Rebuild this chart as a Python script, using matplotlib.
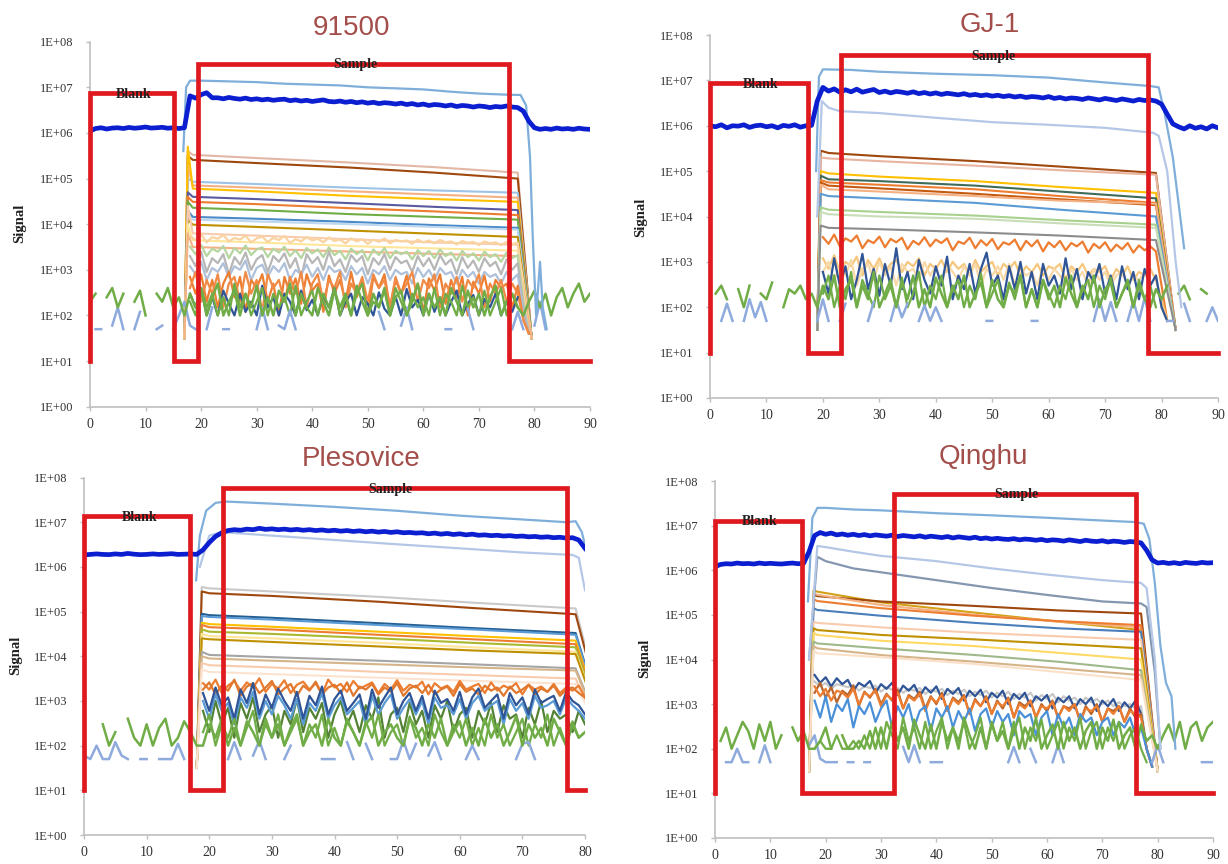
import numpy as np
import matplotlib
matplotlib.use("Agg")
import matplotlib.pyplot as plt
from matplotlib.ticker import FixedLocator, FixedFormatter, NullLocator

nan = float("nan")

# ---------------------------------------------------------------- DATA
Y_TICK_VALUES = [1, 10, 100, 1e3, 1e4, 1e5, 1e6, 1e7, 1e8]
Y_TICK_LABELS = ["1E+00", "1E+01", "1E+02", "1E+03", "1E+04",
                 "1E+05", "1E+06", "1E+07", "1E+08"]
X_TICKS_90 = [0, 10, 20, 30, 40, 50, 60, 70, 80, 90]
X_TICKS_80 = [0, 10, 20, 30, 40, 50, 60, 70, 80]
TITLES = ["91500", "GJ-1", "Plesovice", "Qinghu"]

# ---- 91500 -------------------------------------------------------------
A_gate_t = [0, 0, 15.1, 15.1, 19.4, 19.4, 75.4, 75.4, 90]
A_gate_v = [10, 7.5e6, 7.5e6, 10, 10, 3.3e7, 3.3e7, 10, 10]
# thick blue (x1e6): t=0.., t=17.., t=78..
A_blue_pre = [1.1, 1.25, 1.3, 1.22, 1.28, 1.3, 1.25, 1.32, 1.27, 1.3, 1.35, 1.28, 1.3, 1.33, 1.27, 1.3, 1.25]
A_blue_mid = [1.3, 6.5, 5.8, 6.9, 7.6, 5.9,
              5.9, 5.6, 6.0, 5.7, 5.5, 5.8, 5.4, 5.6, 5.3, 5.5, 5.2, 5.4, 5.5, 5.1, 5.3, 5.0, 5.2, 4.9,
              5.1, 5.3, 4.9, 4.8, 5.0, 4.7, 4.9, 4.6, 4.8, 4.5, 4.7, 4.4, 4.6, 4.5, 4.3, 4.5, 4.2, 4.4,
              4.1, 4.3, 4.0, 4.2, 4.1, 3.9, 4.1, 3.8, 4.0, 3.9, 3.7, 3.9, 3.8, 3.6, 3.8, 3.7, 3.9, 3.7, 3.6]
A_blue_post = [3.0, 1.8, 1.3, 1.2, 1.25, 1.2, 1.28, 1.22, 1.25, 1.2, 1.27, 1.22, 1.2]
A_top_t = [16.8, 17.3, 18, 20, 25, 30, 35, 40, 45, 50, 55, 60, 65, 70, 75, 77.5, 78.5, 79.2, 79.7, 80.3, 81, 81.5, 82.2]
A_top_v = [4e5, 1.0e7, 1.4e7, 1.4e7, 1.35e7, 1.3e7, 1.2e7, 1.15e7, 1.1e7, 1.0e7, 9.5e6, 9e6, 8e6, 7.3e6,
           6.9e6, 6.8e6, 4e6, 3e5, 5e3, 1e2, 1.5e3, 1.5e2, 5e1]
A_kt = [17.0, 17.6, 18.5, 30, 47, 62, 77, 79.5]
A_l01 = [1.5, 5.60, 5.52, 5.45, 5.35, 5.25, 5.13, 1.5]
A_l02 = [1.5, 5.50, 5.41, 5.34, 5.24, 5.13, 5.00, 1.5]
A_l03 = [1.5, 5.00, 4.93, 4.88, 4.80, 4.74, 4.69, 1.5]
A_l04 = [1.5, 5.30, 4.85, 4.80, 4.72, 4.65, 4.58, 1.5]
A_l05 = [1.5, 5.70, 4.78, 4.72, 4.62, 4.55, 4.49, 1.5]
A_l06 = [1.5, 4.70, 4.60, 4.55, 4.46, 4.38, 4.31, 1.5]
A_l07 = [1.5, 4.60, 4.49, 4.44, 4.35, 4.28, 4.20, 1.5]
A_l08 = [1.5, 4.50, 4.36, 4.31, 4.22, 4.16, 4.10, 1.5]
A_l09 = [1.5, 4.30, 4.16, 4.12, 4.05, 3.98, 3.92, 1.5]
A_l10 = [1.5, 4.20, 4.10, 4.06, 4.00, 3.94, 3.88, 1.5]
A_l11 = [1.5, 4.10, 3.99, 3.94, 3.86, 3.79, 3.72, 1.5]
A_l12 = [1.5, 4.40, 3.80, 3.75, 3.67, 3.60, 3.55, 1.5]
A_l13 = [1.5, 4.00, 3.65, 3.60, 3.52, 3.47, 3.42, 1.5]
A_l14 = [1.5, 3.80, 3.50, 3.46, 3.40, 3.35, 3.30, 1.5]
A_line_colors = ["#E2B7A5", "#9E480E", "#9DC3E6", "#F4B183", "#FFC000", "#5A5AA0", "#ED7D31",
                 "#70AD47", "#4A8AC8", "#BDD7EE", "#BF9000", "#F8CBAD", "#FFE699", "#F4B183"]
# noisy traces (x100 counts), 1 s steps from t=18
A_peach = [55, 45, 60, 40, 52, 48, 58, 42, 50, 46, 56, 40, 49, 53, 41, 50, 45, 55, 39, 47, 42, 52, 44, 48, 40,
           51, 43, 46, 38, 49, 42, 47, 37, 46, 41, 49, 38, 45, 42, 44, 37, 46, 40, 44, 38, 45, 40, 42, 36, 43,
           39, 41, 35, 42, 38, 40, 35, 41, 37, 39, 3, 0.4]
A_lgreen = [32, 22, 35, 20, 29, 25, 33, 18, 30, 23, 34, 21, 28, 31, 19, 29, 24, 32, 20, 27, 18, 30, 23, 28, 19,
            31, 21, 26, 17, 29, 22, 27, 16, 28, 21, 30, 18, 26, 22, 25, 17, 27, 20, 26, 18, 28, 20, 24, 16, 26,
            19, 23, 16, 25, 19, 22, 15, 24, 18, 21, 2, 0.4]
A_gray = [20, 12, 25, 9, 18, 14, 22, 8, 19, 13, 24, 10, 17, 21, 9, 20, 15, 23, 11, 18, 7, 22, 14, 19, 10, 25,
          12, 17, 9, 21, 15, 20, 8, 18, 13, 22, 10, 19, 14, 16, 9, 20, 12, 18, 10, 21, 13, 17, 8, 19, 11, 16,
          9, 18, 12, 15, 8, 17, 10, 14, 1.5, 0.4]
A_lgray = [12, 8, 15, 6, 11, 9, 14, 7, 12, 10, 16, 6, 11, 13, 7, 12, 9, 14, 6, 10, 8, 13, 7, 11, 6, 12, 9, 10,
           6, 12, 8, 11, 5, 10, 8, 12, 6, 10, 8, 9, 5, 11, 7, 10, 6, 11, 8, 9, 5, 10, 7, 9, 5, 9, 7, 8, 5, 9,
           6, 8, 1, 0.4]
A_orange = [7, 3, 8, 2, 6, 1.5, 5, 9, 2.5, 7, 1.2, 6, 4, 8, 2, 5, 1, 7, 3, 6.5, 1.8, 8, 3.5, 5, 1.2, 7.5, 3,
            6, 2, 9, 2.5, 5.5, 1, 7, 4, 8, 1.5, 6, 3, 7.5, 2, 5, 1.2, 6.5, 3.5, 8, 1.8, 6, 2.5, 7, 1, 5.5, 3,
            7.5, 2, 6, 4, 5, 1.5, 4.5, 0.8, 0.4]
A_orange2 = [4, 9, 2, 6, 3, 8, 1.5, 5, 7, 2, 9, 3, 6, 1.2, 8, 4, 6, 2, 7, 3, 9, 1.5, 5, 8, 2, 6, 4, 9, 1.5, 5,
             3, 7, 2, 8, 4, 6, 1.5, 7, 3, 5, 9, 2, 6, 4, 8, 1.5, 5, 3, 7, 2, 6, 4, 8, 1.5, 5, 3, 6, 2, 5, 3,
             0.8, 0.4]
A_dblue = [3, 1.5, 4, 1, 2.5, 1, 3.5, 1.8, 1, 3, 1.2, 2, 1, 4.5, 1.5, 2.5, 1, 3, 2, 1, 3.5, 1.3, 2.2, 1, 2.8,
           1.5, 4, 1, 2, 3, 1, 2.5, 1.8, 1, 3.2, 1.4, 1, 2.6, 1, 3.8, 1.5, 2.2, 1, 3, 1.2, 2.5, 1, 2, 3.5, 1,
           1.8, 2.8, 1, 2.3, 1.5, 3, 1, 2, 1.2, 2.5]
A_green2 = [2, 1, 4, 1.5, 3, 1, 2.5, 1, 5, 1.5, 3, 1, 2, 4, 1, 3, 1.5, 2.5, 1, 4.5, 1, 2, 3.5, 1, 3, 1.5, 4, 1,
            2.5, 1, 3, 5, 1, 2, 1.5, 3.5, 1, 4, 2, 1, 3, 1.5, 2.5, 1, 4, 1, 3, 2, 1, 4.5, 1.5, 2.5, 1, 3.5, 1,
            2, 4, 1, 3, 1.5]
A_green = [2, 3, nan, 2.5, 4, 1.5, 3, nan, 2, 3.5, 1, nan, 3, 2, 4, 1.5, 2.5,
           1, 3, 1.5, 4, 1, 2.5, 5, 1, 2, 3.5, 1, 3, 1.5, 4.5, 1, 2.5, 1, 3.5, 2, 5, 1, 3, 1.5, 1, 4, 2, 1,
           3.5, 1.5, 3, 1, 4.5, 2, 1, 3, 1.5, 4, 1, 2.5, 3.5, 1, 2, 5, 1, 3, 1.5, 2.5, 1, 4, 2, 1, 3.5, 1.5,
           3, 1, 2.5, 4.5, 1, 2, 3, 1.5,
           1, 2, 3.5, 1.5, 3, 1, 2.5, 4, 1.5, 3, 5, 2, 3]
A_peri = [nan, 0.5, 0.5, nan, 0.6, 1.5, 0.5, nan, 0.5, 1.2, nan, nan, 0.5, 0.6, nan, 0.5, 1.0, 2.0, 0.6, 0.5,
          nan, 0.5, 1.5, nan, 0.5, 0.5, nan, nan, nan, nan, 0.5, 1.5, 0.5, nan, 0.6, 0.5, 1.3, 0.5, nan, 0.5,
          nan, nan, nan, nan, nan, nan, nan, 0.5, nan, nan, nan, nan, 1.2, 0.5, nan, nan, 0.6, 1.5, 0.5, nan,
          nan, nan, nan, nan, 0.5, 0.5, nan, nan, 1.4, 0.5, nan, 0.6, nan, 0.5, nan, nan, 0.5, 1.2, 0.5, nan,
          0.6, 2.0, 0.5, nan, 0.5, nan, 0.5, nan, nan, nan, 0.5]

# ---- GJ-1 --------------------------------------------------------------
B_gate_t = [0, 0, 17.4, 17.4, 23.2, 23.2, 77.6, 77.6, 90]
B_gate_v = [10, 8.7e6, 8.7e6, 10, 10, 3.6e7, 3.6e7, 10, 10]
B_blue_pre = [1.0, 0.95, 1.05, 0.9, 1.0, 0.98, 1.05, 0.92, 1.0, 1.03, 0.95, 1.0, 0.9, 1.02, 0.97, 1.05, 0.93, 1.0, 1.02]
B_blue_mid = [3.5, 7.0, 5.8, 6.5, 5.5, 6.2, 5.6, 6.4, 5.5, 5.9, 6.3, 5.4, 5.8, 5.3, 5.7, 5.5, 5.2, 5.6, 5.1, 5.4,
              5.0, 5.3, 4.9, 5.2, 5.0, 4.8, 5.1, 4.7, 4.9, 4.6, 4.8, 4.5, 4.7, 4.4, 4.6, 4.3, 4.5, 4.2, 4.4, 4.3,
              4.1, 4.4, 4.0, 4.2, 3.9, 4.1, 4.0, 3.8, 4.1, 3.9, 3.7, 4.0, 3.8, 3.6, 3.9, 3.7, 3.5, 3.8, 3.6, 3.7, 3.5]
B_blue_post = [3.0, 1.8, 1.1, 0.95, 0.85, 1.0, 0.88, 0.95, 0.85, 1.0, 0.9]
B_top_t = [18.8, 19.3, 20.0, 25, 30, 40, 50, 60, 70, 78, 79.5, 80.5, 82, 83, 84]
B_top_v = [1e5, 1.2e7, 1.75e7, 1.7e7, 1.55e7, 1.4e7, 1.3e7, 1.15e7, 9e6, 7.5e6, 7e6, 2e6, 2e5, 2e4, 2e3]
B_lav_t = [19, 19.8, 21, 23, 30, 40, 50, 60, 70, 78.5, 79.5, 81, 82.5, 83.5]
B_lav_v = [1e4, 3.5e6, 2.5e6, 2.1e6, 1.9e6, 1.5e6, 1.2e6, 1.05e6, 9e5, 7e5, 6e5, 1e5, 1e3, 1e2]
B_kt = [19.0, 19.6, 21.0, 30, 47, 62, 79, 82.5]
B_l01 = [1.5, 5.45, 5.40, 5.33, 5.22, 5.10, 4.96, 1.5]
B_l02 = [1.5, 5.30, 5.28, 5.22, 5.12, 5.02, 4.92, 1.5]
B_l03 = [1.5, 5.00, 4.95, 4.88, 4.78, 4.65, 4.52, 1.5]
B_l04 = [1.5, 4.90, 4.82, 4.78, 4.68, 4.55, 4.40, 1.5]
B_l05 = [1.5, 4.80, 4.75, 4.70, 4.60, 4.45, 4.30, 1.5]
B_l06 = [1.5, 4.75, 4.68, 4.62, 4.50, 4.38, 4.25, 1.5]
B_l07 = [1.5, 4.70, 4.60, 4.55, 4.45, 4.35, 4.28, 1.5]
B_l08 = [1.5, 4.50, 4.45, 4.40, 4.30, 4.15, 4.00, 1.5]
B_l09 = [1.5, 4.20, 4.15, 4.10, 4.02, 3.92, 3.82, 1.5]
B_l10 = [1.5, 4.10, 4.05, 4.00, 3.95, 3.85, 3.75, 1.5]
B_l11 = [1.5, 3.80, 3.75, 3.72, 3.65, 3.58, 3.48, 1.5]
B_line_colors = ["#9E480E", "#E8B4A0", "#FFC000", "#3E6B5A", "#ED7D31", "#C55A11", "#F4B183",
                 "#5B9BD5", "#A9D18E", "#C9DDB8", "#8C8C8C"]
B_orange = [35, 25, 40, 22, 33, 28, 38, 20, 30, 26, 36, 21, 32, 27, 34, 19, 29, 24, 35, 22, 31, 26, 33, 18, 28,
            25, 34, 20, 30, 23, 32, 19, 27, 24, 31, 18, 29, 22, 30, 17, 27, 21, 29, 18, 26, 22, 28, 16, 25, 20,
            27, 17, 24, 19, 26, 16, 23, 18, 22, 17, 3, 0.5]
B_tan = [12, 7, 14, 6, 10, 8, 13, 5, 11, 7, 12, 6, 9, 11, 6, 10, 8, 12, 5, 9, 7, 11, 6, 10, 7, 9, 5, 11, 6, 8,
         10, 5, 9, 7, 10, 5, 8, 6, 9, 5, 8, 7, 9, 4, 8, 6, 9, 5, 7, 6, 8, 4, 7, 5, 8, 4, 6, 5, 7, 4, 1.5, 0.5]
B_tan2 = [6, 10, 4, 8, 5, 11, 3, 7, 9, 4, 10, 5, 8, 3, 9, 6, 7, 4, 10, 5, 8, 3, 9, 6, 4, 8, 5, 9, 3, 7, 5, 8,
          4, 9, 3, 7, 5, 6, 3, 8, 4, 7, 5, 3, 7, 4, 6, 3, 7, 4, 6, 3, 5, 6, 3, 5, 4, 6, 3, 5, 1, 0.5]
B_dblue = [6, 2, 12, 3, 8, 1.5, 4, 15, 2.5, 7, 1.8, 9, 3, 20, 2.5, 6, 1.5, 11, 4, 2, 8, 3, 13, 1.5, 5, 2.5, 9,
           2, 7, 16, 3, 5, 1.5, 8, 2.5, 10, 2, 6, 1.5, 9, 3, 5, 2, 12, 2.5, 7, 1.5, 6, 3.5, 9, 2, 5, 1.5, 8,
           2.5, 6, 1.5, 7, 3, 5, 1, 0.5]
B_green2 = [2, 5, 1, 3, 1.5, 6, 1, 4, 2, 1, 5, 1.5, 3, 1, 4.5, 1, 2, 6, 1, 3, 1.5, 5, 1, 2.5, 4, 1, 3, 1.5,
            5.5, 1, 2, 4, 1, 3.5, 1.5, 5, 1, 2.5, 1, 4, 2, 1, 3, 1.5, 5, 1, 2.5, 4, 1, 3, 1.5, 4.5, 1, 2, 3.5,
            1, 4, 1.5, 3, 1]
B_green = [nan, 2, 3, 1.5, nan, 2.5, 1, 3, nan, 2, 1.5, 3.5, nan, 1, 2.5, 2, 3, 1.5, 2,
           1, 3, 1.5, 5, 1, 2.5, 4, 1, 3, 1.5, 6, 1, 2, 4, 1, 3.5, 1.5, 5, 1, 2.5, 1, 4.5, 2, 1, 3, 1.5, 5,
           1, 2, 3.5, 1, 4, 1.5, 1, 3, 2, 5, 1, 2.5, 1, 4, 1.5, 3, 1, 4.5, 2, 1, 3, 1.5, 5, 1, 2.5, 3.5, 1,
           2, 4, 1, 3, 1.5,
           1, 2.5, 1.5, 3, nan, 2, 3, 1.5, nan, 2.5, 2]
B_peri = [nan, nan, 0.5, 1.2, 0.5, nan, 0.5, 1.5, 0.6, 1.3, 0.5, nan, 0.5, nan, nan, 0.5, nan, nan, nan, 0.5,
          1.5, 0.5, nan, 0.5, 1.2, nan, nan, nan, 0.5, 1.3, nan, nan, 0.5, 1.4, 0.6, 1.2, nan, 0.5, 1.1, 0.5,
          1.0, 0.5, nan, nan, nan, nan, nan, nan, nan, 0.5, 0.5, nan, nan, nan, nan, nan, nan, 0.5, 0.5, nan,
          0.5, nan, nan, nan, 0.5, nan, nan, nan, 0.5, 1.5, 0.5, 1.3, 0.5, nan, 0.5, 1.4, 0.5, 1.6, 0.5, nan,
          nan, 0.5, 0.5, nan, 1.2, 0.5, nan, nan, 0.5, 1.0, 0.5]

# ---- Plesovice ---------------------------------------------------------
C_gate_t = [0, 0, 16.9, 16.9, 22.2, 22.2, 77.1, 77.1, 80]
C_gate_v = [10, 1.4e7, 1.4e7, 10, 10, 5.8e7, 5.8e7, 10, 10]
C_blue_pre = [1.85, 1.9, 1.95, 1.9, 1.88, 1.95, 1.9, 2.0, 1.92, 1.88, 1.9, 1.95, 1.9, 1.93, 1.97, 1.9, 1.92, 1.95, 1.9]
C_blue_mid = [2.4, 3.5, 4.8, 5.8, 6.5, 6.8, 6.6, 7.0, 6.8, 7.3, 6.9, 7.1, 6.8, 7.0, 6.7, 6.9, 6.6, 6.8, 6.5, 6.7,
              6.4, 6.6, 6.3, 6.5, 6.2, 6.4, 6.1, 6.3, 6.0, 6.2, 5.9, 6.1, 5.8, 5.9, 5.7, 5.8, 5.5, 5.7, 5.4, 5.6,
              5.3, 5.5, 5.2, 5.4, 5.1, 5.2, 5.0, 5.1, 4.9, 5.0, 4.8, 4.9, 4.7, 4.8, 4.6, 4.7, 4.5, 4.6, 4.4, 4.5]
C_blue_post = [4.0, 2.6]
C_top_t = [17.9, 18.5, 19.5, 21, 22.5, 25, 30, 40, 50, 60, 70, 77, 78.5, 79.5, 80]
C_top_v = [5e5, 5e6, 1.8e7, 2.7e7, 2.9e7, 2.8e7, 2.6e7, 2.2e7, 1.8e7, 1.4e7, 1.15e7, 1.0e7, 1.05e7, 6e6, 3e6]
C_lav_t = [18.5, 20, 22, 30, 40, 50, 60, 70, 78, 79, 80]
C_lav_v = [1e6, 5e6, 6e6, 5e6, 4e6, 3.2e6, 2.6e6, 2.1e6, 1.85e6, 1.6e6, 3e5]
C_kt = [18.0, 18.8, 20.0, 30, 47, 62, 78.5, 85]
C_l01 = [1.5, 5.55, 5.52, 5.45, 5.33, 5.20, 5.07, 1.5]
C_l02 = [1.5, 5.45, 5.41, 5.35, 5.22, 5.08, 4.94, 1.5]
C_l03 = [1.5, 4.95, 4.92, 4.86, 4.74, 4.63, 4.52, 1.5]
C_l04 = [1.5, 4.90, 4.88, 4.82, 4.70, 4.60, 4.48, 1.5]
C_l05 = [1.5, 4.75, 4.72, 4.66, 4.55, 4.45, 4.35, 1.5]
C_l06 = [1.5, 4.70, 4.65, 4.60, 4.48, 4.38, 4.27, 1.5]
C_l07 = [1.5, 4.60, 4.55, 4.50, 4.40, 4.30, 4.20, 1.5]
C_l08 = [1.5, 4.50, 4.45, 4.40, 4.30, 4.20, 4.10, 1.5]
C_l09 = [1.5, 4.40, 4.38, 4.32, 4.22, 4.13, 4.05, 1.5]
C_l10 = [1.5, 4.10, 4.03, 3.98, 3.90, 3.82, 3.73, 1.5]
C_l11 = [1.5, 4.00, 3.95, 3.90, 3.82, 3.75, 3.68, 1.5]
C_l12 = [1.5, 3.85, 3.80, 3.75, 3.65, 3.58, 3.50, 1.5]
C_l13 = [1.5, 3.70, 3.65, 3.60, 3.52, 3.45, 3.38, 1.5]
C_line_colors = ["#C9C9C9", "#9E480E", "#255E91", "#5B9BD5", "#FFC000", "#ED7D31", "#A9B82E",
                 "#FFE699", "#BF9000", "#A5A5A5", "#D6B48A", "#F8CBAD", "#FBE3D0"]
C_orange = [25, 18, 30, 15, 22, 28, 17, 26, 20, 32, 16, 24, 19, 29, 15, 23, 27, 18, 25, 14, 30, 20, 24, 16, 28,
            19, 22, 26, 15, 24, 18, 29, 17, 23, 20, 27, 14, 25, 19, 22, 16, 28, 18, 21, 24, 15, 26, 17, 22, 19,
            25, 14, 23, 18, 21, 16, 24, 15, 20, 17, 22, 12]
C_orange2 = [18, 26, 14, 22, 17, 30, 13, 21, 25, 15, 20, 28, 14, 19, 24, 13, 22, 17, 27, 14, 20, 23, 15, 26,
             13, 21, 18, 24, 14, 20, 16, 25, 13, 19, 22, 15, 23, 14, 18, 21, 13, 24, 16, 19, 14, 22, 17, 20, 13,
             21, 15, 18, 23, 14, 19, 16, 22, 13, 18, 20, 15, 12]
C_dblue = [15, 6, 20, 8, 12, 4, 18, 9, 25, 5, 14, 7, 19, 10, 6, 16, 4, 13, 8, 21, 5, 11, 17, 6, 9, 14, 4, 18,
           7, 12, 20, 5, 10, 15, 6, 13, 4, 17, 9, 11, 6, 16, 5, 12, 19, 7, 10, 14, 4, 15, 8, 12, 5, 18, 9, 11,
           13, 6, 16, 10, 8, 5]
C_blue2 = [10, 4, 14, 6, 9, 3, 12, 7, 16, 4, 10, 5, 13, 8, 4, 11, 3, 9, 6, 15, 4, 8, 12, 5, 7, 10, 3, 13, 5,
           9, 14, 4, 7, 11, 5, 10, 3, 12, 7, 8, 5, 11, 4, 9, 13, 6, 8, 10, 3, 11, 6, 9, 4, 13, 7, 8, 10, 5, 12,
           8, 6, 4]
C_dgreen = [6, 2, 10, 3, 7, 1.5, 9, 4, 12, 2, 5, 8, 1.5, 6, 3, 11, 2, 7, 4, 9, 1.5, 5, 10, 3, 6, 2, 8, 4, 12,
            1.5, 5, 7, 2, 9, 3, 6, 1.5, 8, 4, 10, 2, 5, 7, 1.5, 6, 3, 9, 2, 8, 4, 5, 1.5, 7, 3, 10, 2, 6, 4, 5,
            2, 6, 3]
C_green2 = [2, 5, 1, 3, 1.5, 4, 1, 2.5, 6, 1, 3, 1.5, 5, 1, 2, 4, 1, 3, 1.5, 5, 1, 2.5, 1, 4, 2, 1, 3.5, 1.5,
            5, 1, 2, 3, 1, 4.5, 1.5, 2.5, 1, 5, 2, 1, 3, 1.5, 4, 1, 2.5, 1, 5, 1.5, 3, 1, 2, 4, 1, 3, 1.5, 5,
            1, 2.5, 1, 3.5, 1.5, 2]
C_green = [nan, 1.5, nan, 3, 1, 2, nan, 4, 1.5, 1, 3, 1, 2.5, 4, 1, 1.5, 3.5, 2, 1,
           1, 3, 1.5, 4, 1, 2.5, 1, 3.5, 2, 1, 4, 1.5, 3, 1, 2.5, 5, 1, 2, 3, 1, 4, 1.5, 1, 3.5, 2, 1, 3, 4.5,
           1, 2, 3, 1.5, 1, 4, 2.5, 1, 3, 1.5, 4, 1, 2, 3.5, 1, 2.5, 1, 4, 1.5, 3, 1, 2, 4.5, 1, 3, 1.5, 2.5,
           1, 4, 2, 1, 3, 1.5, 2]
C_peri = [0.6, 0.5, 1.0, 0.5, 0.5, 1.2, 0.6, 0.5, nan, 0.5, 0.5, nan, 0.5, 0.5, 0.5, 1.1, 0.5, nan, nan, nan,
          0.5, nan, nan, 0.5, 1.2, 0.5, nan, 0.6, 1.3, 0.5, nan, nan, 0.5, 1.0, nan, nan, nan, nan, 0.5, 0.5,
          0.5, nan, 1.2, 0.5, nan, 1.1, 0.5, nan, nan, 0.5, 0.5, 1.3, 0.5, 1.1, nan, 0.6, 1.2, 0.5, nan, nan,
          nan, 0.5, 1.0, 0.5, nan, 0.5, nan, nan, nan, 0.5, 1.1, 1.2, 0.5, nan, nan, nan, 0.5, nan, nan, nan, nan]

# ---- Qinghu ------------------------------------------------------------
D_gate_t = [0, 0, 15.8, 15.8, 32.4, 32.4, 76.0, 76.0, 90]
D_gate_v = [10, 1.3e7, 1.3e7, 10, 10, 5.2e7, 5.2e7, 10, 10]
D_blue_pre = [1.2, 1.35, 1.4, 1.38, 1.45, 1.4, 1.42, 1.38, 1.45, 1.4, 1.43, 1.4, 1.38, 1.42, 1.45, 1.4, 1.42]
D_blue_mid = [2.6, 6.0, 7.0, 6.4, 6.8, 6.2, 6.5, 6.1, 6.4, 6.0, 6.3, 5.9, 6.2, 6.0, 5.8, 6.1, 5.7, 6.0, 5.8, 5.6,
              5.9, 5.5, 5.8, 5.6, 5.4, 5.7, 5.3, 5.6, 5.4, 5.2, 5.5, 5.1, 5.3, 5.0, 5.2, 5.0, 4.9, 5.1, 4.8, 5.0,
              4.9, 4.7, 4.9, 4.6, 4.8, 4.7, 4.5, 4.8, 4.6, 4.4, 4.7, 4.5, 4.4, 4.6, 4.3, 4.5, 4.4, 4.2, 4.4, 4.3, 4.1]
D_blue_post = [2.8, 1.7, 1.45, 1.5, 1.42, 1.48, 1.4, 1.5, 1.45, 1.42, 1.5, 1.45, 1.48]
D_top_t = [16.8, 17.6, 18.5, 20, 25, 30, 40, 50, 60, 70, 76, 77.5, 78.5, 79.5, 80.5, 81.5, 82.5, 83.2]
D_top_v = [2e5, 1.5e7, 2.5e7, 2.5e7, 2.3e7, 2.2e7, 1.9e7, 1.7e7, 1.5e7, 1.3e7, 1.2e7, 1.1e7, 5e6, 5e5,
           2e4, 3e3, 1.5e3, 1e2]
D_lav_t = [17.0, 18.5, 20, 25, 30, 40, 50, 60, 70, 77, 78, 79.5, 80.5]
D_lav_v = [1e4, 3.5e6, 3.3e6, 2.6e6, 2.1e6, 1.6e6, 1.1e6, 8e5, 6e5, 5.2e5, 4e5, 1e4, 1e2]
D_gb_v = [1e4, 2e6, 1.6e6, 1.1e6, 9e5, 6e5, 4e5, 2.8e5, 2e5, 1.8e5, 1.5e5, 5e3, 1e2]
D_kt = [17.0, 17.8, 18.5, 30, 47, 62, 77, 80.0]
D_l01 = [1.5, 5.55, 5.52, 5.28, 5.05, 4.85, 4.66, 1.5]
D_l02 = [1.5, 5.45, 5.42, 5.30, 5.20, 5.10, 5.03, 1.5]
D_l03 = [1.5, 5.48, 5.45, 5.22, 5.00, 4.85, 4.72, 1.5]
D_l04 = [1.5, 5.35, 5.31, 5.15, 4.98, 4.86, 4.77, 1.5]
D_l05 = [1.5, 5.15, 5.11, 4.98, 4.82, 4.70, 4.62, 1.5]
D_l06 = [1.5, 4.85, 4.82, 4.72, 4.60, 4.52, 4.44, 1.5]
D_l07 = [1.5, 4.70, 4.66, 4.55, 4.45, 4.35, 4.25, 1.5]
D_l08 = [1.5, 4.60, 4.55, 4.42, 4.30, 4.15, 4.00, 1.5]
D_l09 = [1.5, 4.40, 4.36, 4.25, 4.10, 3.95, 3.76, 1.5]
D_l10 = [1.5, 4.30, 4.25, 4.10, 3.95, 3.80, 3.65, 1.5]
D_l11 = [1.5, 4.20, 4.14, 4.05, 3.90, 3.72, 3.54, 1.5]
D_line_colors = ["#D4A017", "#9E480E", "#F4B183", "#ED7D31", "#4A7EBB", "#F8CBAD", "#BF9000",
                 "#FFD966", "#9FB98A", "#D6B48A", "#FBE0C8"]
D_dblue = [45, 30, 40, 25, 38, 28, 35, 20, 30, 25, 33, 18, 28, 22, 30, 16, 26, 20, 27, 15, 24, 18, 25, 13, 22,
           17, 23, 12, 20, 15, 21, 11, 18, 14, 20, 10, 17, 13, 18, 9, 15, 12, 16, 8, 14, 11, 15, 8, 13, 10, 14,
           7, 12, 9, 13, 7, 11, 8, 12, 6, 1, 0.4]
D_lgray = [32, 25, 30, 22, 28, 26, 24, 27, 20, 25, 23, 26, 19, 24, 21, 23, 18, 22, 20, 23, 17, 21, 19, 22, 16,
           20, 17, 21, 15, 19, 16, 20, 14, 18, 15, 19, 13, 17, 14, 18, 12, 16, 13, 17, 11, 15, 12, 14, 10, 14,
           11, 13, 10, 12, 9, 11, 9, 10, 8, 9, 1, 0.4]
D_orange = [25, 15, 22, 12, 20, 18, 14, 22, 10, 18, 15, 20, 9, 16, 13, 18, 8, 15, 12, 17, 7, 14, 11, 16, 7, 13,
            10, 15, 6, 12, 9, 14, 6, 11, 9, 13, 5, 10, 8, 12, 5, 9, 8, 11, 5, 9, 7, 10, 4, 8, 7, 9, 4, 8, 6, 9,
            4, 7, 6, 5, 1, 0.4]
D_brown = [18, 30, 14, 24, 11, 20, 16, 26, 9, 19, 14, 22, 10, 17, 12, 21, 8, 16, 13, 19, 8, 15, 10, 18, 7, 14,
           11, 16, 6, 13, 9, 15, 6, 12, 8, 14, 5, 11, 9, 12, 5, 10, 7, 12, 5, 9, 8, 10, 4, 9, 6, 10, 4, 8, 7, 9,
           4, 8, 5, 6, 1, 0.4]
D_blue = [12, 5, 15, 4, 10, 7, 13, 3, 9, 6, 11, 4, 8, 12, 3, 9, 5, 10, 3, 7, 9, 2.5, 8, 5, 9, 3, 7, 4, 8, 2.5,
          6, 8, 3, 7, 4, 6, 2, 7, 5, 6, 2, 5, 7, 2, 6, 3, 5, 2, 6, 4, 5, 2, 4, 5, 2, 4, 3, 5, 2, 3, 1, 0.4]
D_green2 = [1, 1.5, 1, 1, 2, 1, 1, 1.5, 1, 2, 1, 3, 1, 4, 2, 1, 5, 1.5, 3, 1, 4, 1, 2.5, 5, 1, 3, 1.5, 4, 1, 2,
            5, 1, 3.5, 1.5, 4, 1, 2.5, 5, 1, 3, 1.5, 4.5, 1, 2, 4, 1, 3, 1.5, 5, 1, 2.5, 4, 1, 3, 1.5, 4, 1, 2,
            3, 1, 0.5]
D_green = [nan, 1.5, 3, 1, 2, 4, 2.5, 1, 3.5, 1.5, 4, 1, 2, nan, 3, 1.5, 2.5, 1,
           1, 1.5, 3, 1, nan, 2, 1, 1, 1.5, 1, 2.5, 1, 3, 1, 4, 1.5, 3, 1, 4.5, 2, 1, 3.5, 1, 4, 1.5, 3, 1, 5,
           2, 1, 3, 1, 4, 1.5, 2.5, 1, 4, 1, 3, 1.5, 5, 1, 2, 3.5, 1, 4, 1.5, 3, 1, 2.5, 4, 1, 3, 1.5, 4.5, 1,
           2, 3, 1, 3.5, 1.5, 2,
           1, 2, 3.5, 1.5, 4, 1, 3, 4, 1.5, 3, 4]
D_peri = [nan, nan, 0.5, 0.5, 1.0, 0.5, 0.5, nan, 0.5, 1.2, 0.5, nan, nan, nan, nan, nan, nan, 1.2, 2.0, 0.6,
          0.5, 0.5, 0.5, nan, 0.5, 0.5, nan, 0.5, 0.5, nan, nan, nan, nan, nan, 1.1, 0.5, 1.2, 0.5, nan, 0.5,
          0.5, 0.5, nan, nan, nan, 0.5, nan, nan, nan, nan, nan, 0.5, nan, 0.5, 1.1, 0.5, nan, 1.0, 0.5, nan,
          nan, 0.5, 1.2, 0.5, nan, nan, nan, 0.5, nan, nan, 0.5, nan, nan, nan, nan, nan, nan, nan, nan, 0.5,
          1.2, 0.5, nan, nan, nan, nan, nan, nan, 0.5, 0.5, 0.5]

# ---------------------------------------------------------------- STYLE
W, H = 1228, 864
RED = "#E0191F"
THICK_BLUE = "#0B1FD0"
TOP_BLUE = "#7FAEDB"
LAVENDER = "#B4C7E7"
GRAYBLUE = "#8497B0"
GREEN = "#70AD47"
PERI = "#8FAADC"
TITLE_COLOR = "#A34E4A"
SERIF = ["Liberation Serif", "DejaVu Serif"]
SANS = ["Liberation Sans", "DejaVu Sans"]


def px_rect(x0, x1, ytop, ybot):
    return [x0 / W, 1 - ybot / H, (x1 - x0) / W, (ybot - ytop) / H]


def seg(t0, vals, scale):
    v = np.asarray(vals, dtype=float) * scale
    return t0 + np.arange(len(v)), v


def concat(*parts):
    return (np.concatenate([p[0] for p in parts]),
            np.concatenate([p[1] for p in parts]))


panels = [
    dict(rect=px_rect(90, 590, 41.7, 406.7), xmax=90, xticks=X_TICKS_90,
         gate=(A_gate_t, A_gate_v),
         blue=concat(seg(0, A_blue_pre, 1e6), seg(17, A_blue_mid, 1e6), seg(78, A_blue_post, 1e6)),
         upper=[(A_top_t, A_top_v, TOP_BLUE)],
         kt=A_kt,
         levels=[A_l01, A_l02, A_l03, A_l04, A_l05, A_l06, A_l07, A_l08, A_l09, A_l10, A_l11, A_l12, A_l13, A_l14],
         colors=A_line_colors,
         noisy=[(18, A_peach, "#F9D3A0"), (18, A_lgreen, "#B5D6A0"), (18, A_gray, "#B7B7B7"),
                (18, A_lgray, "#AFC0DA"), (18, A_orange, "#ED7D31"), (18, A_orange2, "#F08A45"),
                (18, A_dblue, "#2F5597"), (18, A_green2, "#70AD47")],
         green=A_green, peri=A_peri,
         blank=(7.8, 10 ** 6.845), sample=(47.7, 10 ** 7.49),
         title=(352, 28), ylabel=(20, 223)),
    dict(rect=px_rect(710, 1218, 35, 398), xmax=90, xticks=X_TICKS_90,
         gate=(B_gate_t, B_gate_v),
         blue=concat(seg(0, B_blue_pre, 1e6), seg(19, B_blue_mid, 1e6), seg(80, B_blue_post, 1e6)),
         upper=[(B_lav_t, B_lav_v, LAVENDER), (B_top_t, B_top_v, TOP_BLUE)],
         kt=B_kt,
         levels=[B_l01, B_l02, B_l03, B_l04, B_l05, B_l06, B_l07, B_l08, B_l09, B_l10, B_l11],
         colors=B_line_colors,
         noisy=[(20, B_orange, "#ED7D31"), (20, B_tan, "#F5C77E"), (20, B_tan2, "#F8D9A8"),
                (20, B_dblue, "#2F5597"), (20, B_green2, "#70AD47")],
         green=B_green, peri=B_peri,
         blank=(9.0, 10 ** 6.91), sample=(50.3, 10 ** 7.53),
         title=(990, 25), ylabel=(641, 217)),
    dict(rect=px_rect(84, 585, 477.5, 835), xmax=80, xticks=X_TICKS_80,
         gate=(C_gate_t, C_gate_v),
         blue=concat(seg(0, C_blue_pre, 1e6), seg(19, C_blue_mid, 1e6), seg(79, C_blue_post, 1e6)),
         upper=[(C_lav_t, C_lav_v, LAVENDER), (C_top_t, C_top_v, TOP_BLUE)],
         kt=C_kt,
         levels=[C_l01, C_l02, C_l03, C_l04, C_l05, C_l06, C_l07, C_l08, C_l09, C_l10, C_l11, C_l12, C_l13],
         colors=C_line_colors,
         noisy=[(19, C_orange, "#ED7D31"), (19, C_orange2, "#E0782E"), (19, C_dgreen, "#548235"),
                (19, C_blue2, "#5B9BD5"), (19, C_dblue, "#2F5597"), (19, C_green2, "#70AD47")],
         green=C_green, peri=C_peri,
         blank=(8.8, 10 ** 7.115), sample=(48.9, 10 ** 7.735),
         title=(361, 459), ylabel=(16, 655)),
    dict(rect=px_rect(715, 1213, 481, 838), xmax=90, xticks=X_TICKS_90,
         gate=(D_gate_t, D_gate_v),
         blue=concat(seg(0, D_blue_pre, 1e6), seg(17, D_blue_mid, 1e6), seg(78, D_blue_post, 1e6)),
         upper=[(D_lav_t, D_gb_v, GRAYBLUE), (D_lav_t, D_lav_v, LAVENDER), (D_top_t, D_top_v, TOP_BLUE)],
         kt=D_kt,
         levels=[D_l01, D_l02, D_l03, D_l04, D_l05, D_l06, D_l07, D_l08, D_l09, D_l10, D_l11],
         colors=D_line_colors,
         noisy=[(18, D_lgray, "#C8C8C8"), (18, D_dblue, "#2F5597"), (18, D_brown, "#B8642A"),
                (18, D_orange, "#ED7D31"), (18, D_blue, "#4A90D9"), (18, D_green2, "#70AD47")],
         green=D_green, peri=D_peri,
         blank=(8.0, 10 ** 7.085), sample=(54.4, 10 ** 7.69),
         title=(983, 457), ylabel=(645, 658)),
]

fig = plt.figure(figsize=(W / 100, H / 100), dpi=100)
fig.patch.set_facecolor("white")

for p, title in zip(panels, TITLES):
    ax = fig.add_axes(p["rect"])
    ax.set_yscale("log")
    ax.set_xlim(0, p["xmax"])
    ax.set_ylim(1, 1e8)

    for lv, col in zip(p["levels"], p["colors"]):
        ax.plot(p["kt"], 10.0 ** np.asarray(lv), color=col, lw=1.5, zorder=2)
    for t0, vals, col in p["noisy"]:
        t, v = seg(t0, vals, 100)
        ax.plot(t, v, color=col, lw=1.6, zorder=2.2)
    t, v = seg(0, p["peri"], 100)
    ax.plot(t, v, color=PERI, lw=1.8, zorder=2.3)
    t, v = seg(0, p["green"], 100)
    ax.plot(t, v, color=GREEN, lw=1.8, zorder=2.4)
    for tt, vv, col in p["upper"]:
        ax.plot(tt, vv, color=col, lw=1.6, zorder=3)
    bt, bv = p["blue"]
    ax.plot(bt, bv, color=THICK_BLUE, lw=3.4, zorder=4, solid_joinstyle="round")
    gt, gv = p["gate"]
    ax.plot(gt, gv, color=RED, lw=3.4, zorder=5, clip_on=False, solid_joinstyle="miter")

    ax.text(p["blank"][0], p["blank"][1], "Blank", ha="center", va="center", fontsize=10,
            fontweight="bold", family=SERIF, color="#202020", zorder=6)
    ax.text(p["sample"][0], p["sample"][1], "Sample", ha="center", va="center", fontsize=10,
            fontweight="bold", family=SERIF, color="#202020", zorder=6)

    ax.yaxis.set_major_locator(FixedLocator(Y_TICK_VALUES))
    ax.yaxis.set_major_formatter(FixedFormatter(Y_TICK_LABELS))
    ax.yaxis.set_minor_locator(NullLocator())
    ax.set_xticks(p["xticks"])
    ax.set_xticklabels([str(v) for v in p["xticks"]])
    for sp in ("top", "right"):
        ax.spines[sp].set_visible(False)
    for sp in ("left", "bottom"):
        ax.spines[sp].set_color("#BFBFBF")
        ax.spines[sp].set_linewidth(1.2)
    ax.tick_params(axis="y", direction="out", length=3, width=1, color="#BFBFBF",
                   labelsize=9, labelcolor="#333333", pad=9)
    ax.tick_params(axis="x", direction="out", length=3, width=1, color="#BFBFBF",
                   labelsize=10, labelcolor="#333333", pad=5)
    for lab in ax.get_xticklabels() + ax.get_yticklabels():
        lab.set_family(SERIF)
    ax.set_facecolor("none")

    fig.text(p["title"][0] / W, 1 - p["title"][1] / H, title, ha="center", va="center",
             fontsize=20, color=TITLE_COLOR, family=SANS)
    fig.text(p["ylabel"][0] / W, 1 - p["ylabel"][1] / H, "Signal", ha="center", va="center",
             rotation=90, fontsize=10.5, fontweight="bold", family=SERIF, color="#202020")

fig.savefig("out.png", dpi=100, facecolor="white")
